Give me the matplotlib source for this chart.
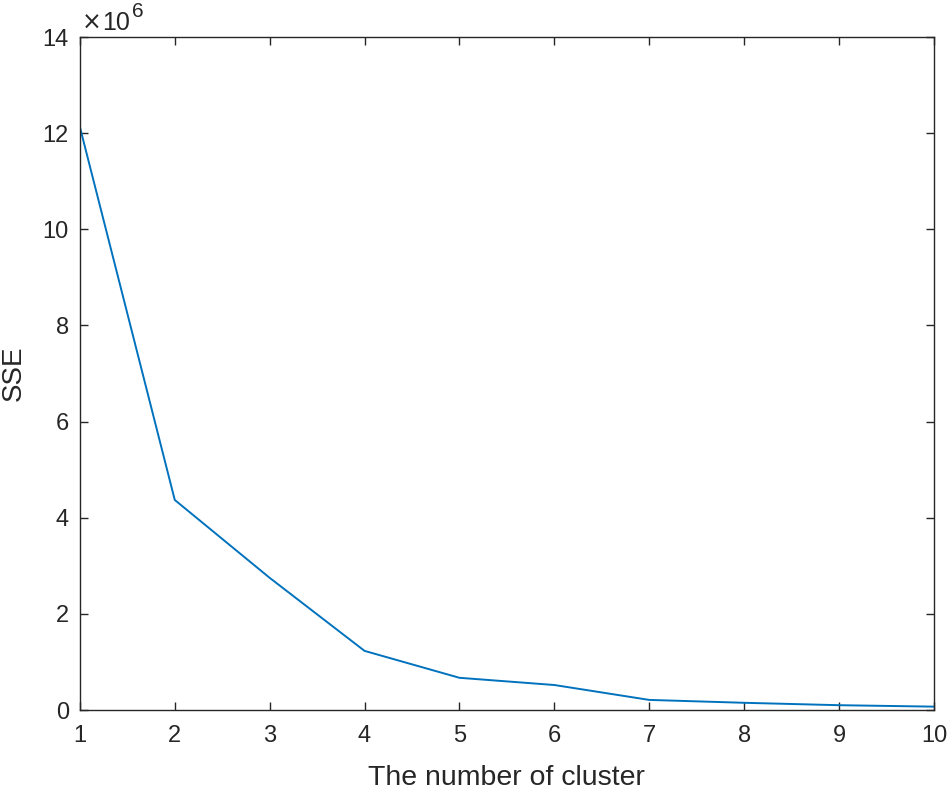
import matplotlib
matplotlib.use("Agg")
import matplotlib.pyplot as plt
from matplotlib.ticker import FuncFormatter

# elbow curve: number of clusters vs SSE
clusters = [1, 2, 3, 4, 5, 6, 7, 8, 9, 10]
sse = [12.13e6, 4.37e6, 2.75e6, 1.23e6, 0.67e6, 0.52e6, 0.21e6, 0.15e6, 0.10e6, 0.07e6]
yticks = [0, 2e6, 4e6, 6e6, 8e6, 10e6, 12e6, 14e6]
scale = 1e6

plt.rcParams["font.family"] = ["Liberation Sans", "DejaVu Sans"]
axis_color = "#262626"

fig = plt.figure(figsize=(9.51, 7.91), dpi=100)
ax = fig.add_axes([0.084, 0.1024, 0.898, 0.8507])

ax.plot(clusters, sse, color="#0072BD", linewidth=1.4)

ax.set_xlim(1, 10)
ax.set_ylim(0, 14e6)
ax.set_xticks(clusters)
ax.set_yticks(yticks)
ax.yaxis.set_major_formatter(FuncFormatter(lambda v, p: f"{v / scale:g}"))

ax.tick_params(direction="in", length=6, width=1.0, top=True, right=True,
               labelsize=17, colors=axis_color)
ax.tick_params(axis="x", pad=11)
ax.tick_params(axis="y", pad=8)
for s in ax.spines.values():
    s.set_color(axis_color)
    s.set_linewidth(1.0)

# exponent above the y axis, MATLAB style
fig.text(0.0855, 0.962, "\u00d7", fontsize=17, color=axis_color,
         family="DejaVu Sans", ha="left", va="baseline")
fig.text(0.1075, 0.962, "10", fontsize=18, color=axis_color,
         ha="left", va="baseline")
fig.text(0.139, 0.978, "6", fontsize=15, color=axis_color,
         ha="left", va="baseline")

ax.set_xlabel("The number of cluster", fontsize=20.5, color=axis_color)
ax.set_ylabel("SSE", fontsize=20, color=axis_color)
ax.xaxis.set_label_coords(0.5, -0.101)
ax.xaxis.label.set_va("center")
ax.yaxis.set_label_coords(-0.077, 0.5)
ax.yaxis.label.set_va("center")

fig.savefig("out.png", dpi=100)
